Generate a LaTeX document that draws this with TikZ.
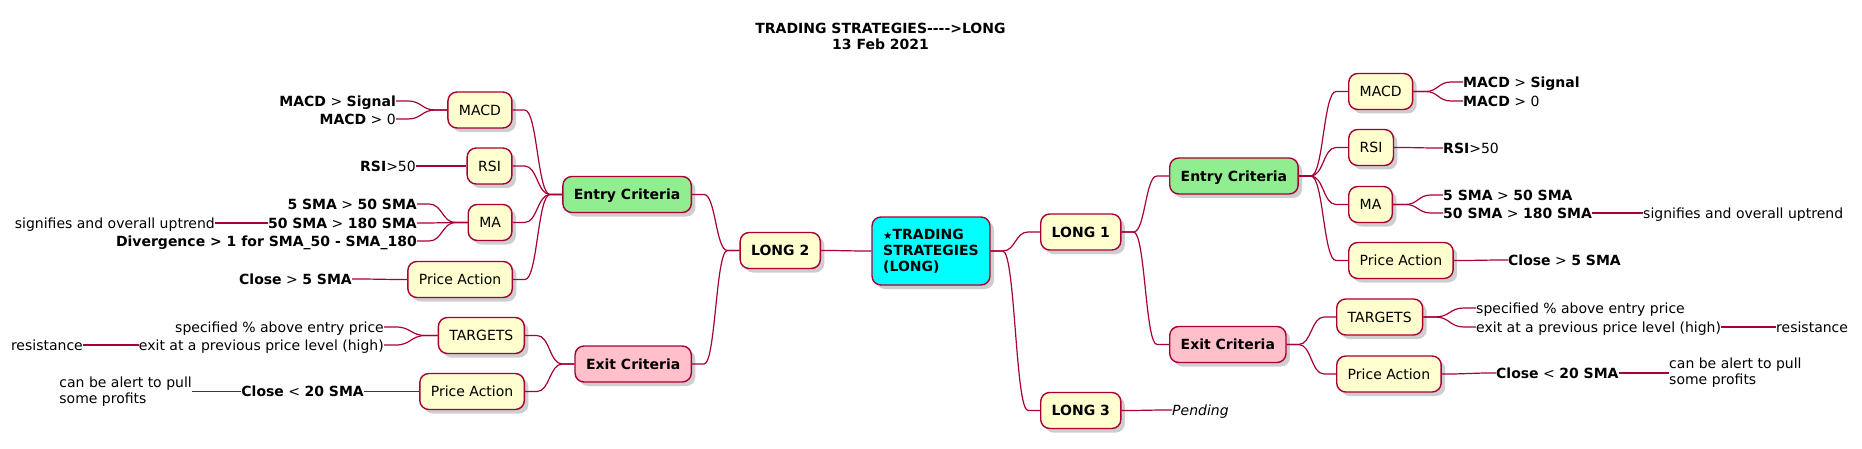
\documentclass[tikz,border=0pt]{standalone}
\usepackage{fontspec}
\setmainfont{DejaVu Sans}
\usetikzlibrary{shadows,calc}
\definecolor{pborder}{HTML}{A80036}
\definecolor{pyellow}{HTML}{FEFECE}
\definecolor{pgreen}{HTML}{90EE90}
\definecolor{ppink}{HTML}{FFC0CB}
\definecolor{pcyan}{HTML}{00FFFF}
\tikzset{
  boxbase/.style={draw=pborder, line width=1.4pt, rounded corners=9pt, fill=pyellow,
    minimum height=36pt, inner xsep=11pt, inner ysep=0pt,
    drop shadow={shadow xshift=4pt, shadow yshift=-4pt, opacity=0.35, fill=black!55}},
  capline/.style={text height=10.2pt, text depth=0pt},
  box/.style={boxbase, capline},
  leaf/.style={inner sep=0pt, capline},
  multileaf/.style={inner sep=0pt, align=left},
  conn/.style={draw=pborder, line width=1.2pt},
}
\newcommand\linkR[2]{\draw[conn] let \p1=(#1.east), \p2=(#2.west), \n1={0.5*(\x1+\x2)} in
  (\p1) -- (\x1+12pt,\y1) .. controls (\n1,\y1) and (\n1,\y2) .. (\x2-12pt,\y2) -- (\p2);}
\newcommand\linkL[2]{\draw[conn] let \p1=(#1.west), \p2=(#2.east), \n1={0.5*(\x1+\x2)} in
  (\p1) -- (\x1-12pt,\y1) .. controls (\n1,\y1) and (\n1,\y2) .. (\x2+12pt,\y2) -- (\p2);}
\begin{document}
\begin{tikzpicture}[x=1pt, y=-1pt, font=\fontsize{14}{16}\selectfont]
\useasboundingbox (0,0) rectangle (1862,449);
\fill[white] (0,0) rectangle (1862,449);

% title
\node[align=center, font=\fontsize{14}{16}\selectfont\bfseries] (title) at (880.5,36)
  {TRADING STRATEGIES-{}-{}-{}-{}>LONG\\13 Feb 2021};

% root
\node[boxbase, fill=pcyan, minimum height=68pt, minimum width=118pt, align=left,
  font=\fontsize{14}{16}\selectfont\bfseries] (root) at (931,251)
  {{\fontsize{10.5}{16}\selectfont ★}TRADING\\STRATEGIES\\(LONG)};

% ---------- right side ----------
\node[box, anchor=west, font=\fontsize{14}{16}\selectfont\bfseries] (L1) at (1040,232) {LONG 1};
\node[box, anchor=west, font=\fontsize{14}{16}\selectfont\bfseries] (L3) at (1040,410.5) {LONG 3};
\node[leaf, anchor=west] (pend) at (1172,410) {\textit{Pending}};

\node[box, fill=pgreen, anchor=west, font=\fontsize{14}{16}\selectfont\bfseries] (rEn) at (1169,176) {Entry Criteria};
\node[box, fill=ppink, anchor=west, font=\fontsize{14}{16}\selectfont\bfseries] (rEx) at (1169,344.5) {Exit Criteria};

\node[box, anchor=west] (rMACD) at (1348,91.5) {MACD};
\node[box, anchor=west] (rRSI) at (1348,147.5) {RSI};
\node[box, anchor=west] (rMA) at (1348,204.5) {MA};
\node[box, anchor=west] (rPA) at (1348,260.5) {Price Action};
\node[box, anchor=west] (rTG) at (1336,317) {TARGETS};
\node[box, anchor=west] (rPA2) at (1336,374) {Price Action};

\node[leaf, anchor=west] (rm1) at (1463,82) {\textbf{MACD} > \textbf{Signal}};
\node[leaf, anchor=west] (rm2) at (1463,101) {\textbf{MACD} > 0};
\node[leaf, anchor=west] (rr1) at (1443,148) {\textbf{RSI}>50};
\node[leaf, anchor=west] (ra1) at (1443,195) {\textbf{5 SMA} > \textbf{50 SMA}};
\node[leaf, anchor=west] (ra2) at (1443,213) {\textbf{50 SMA} > \textbf{180 SMA}};
\node[leaf, anchor=west] (ra3) at (1643,213) {signifies and overall uptrend};
\node[leaf, anchor=west] (rp1) at (1508,260) {\textbf{Close} > \textbf{5 SMA}};
\node[leaf, anchor=west] (rt1) at (1476,308) {specified \% above entry price};
\node[leaf, anchor=west] (rt2) at (1476,327) {exit at a previous price level (high)};
\node[leaf, anchor=west] (rt3) at (1776,327) {resistance};
\node[leaf, anchor=west] (rq1) at (1496,373) {\textbf{Close} < \textbf{20 SMA}};
\node[multileaf, anchor=west] (rq2) at (1669,373) {can be alert to pull\\some profits};

% ---------- left side ----------
\node[box, anchor=east, font=\fontsize{14}{16}\selectfont\bfseries] (L2) at (821,250.5) {LONG 2};
\node[box, fill=pgreen, anchor=east, font=\fontsize{14}{16}\selectfont\bfseries] (lEn) at (692,194.5) {Entry Criteria};
\node[box, fill=ppink, anchor=east, font=\fontsize{14}{16}\selectfont\bfseries] (lEx) at (692,364) {Exit Criteria};

\node[box, anchor=east] (lMACD) at (512.6,110) {MACD};
\node[box, anchor=east] (lRSI) at (512.6,166) {RSI};
\node[box, anchor=east] (lMA) at (512.6,222.5) {MA};
\node[box, anchor=east] (lPA) at (513,279.5) {Price Action};
\node[box, anchor=east] (lTG) at (525,335.5) {TARGETS};
\node[box, anchor=east] (lPA2) at (525,391.5) {Price Action};

\node[leaf, anchor=east] (lm1) at (396,101) {\textbf{MACD} > \textbf{Signal}};
\node[leaf, anchor=east] (lm2) at (396,119) {\textbf{MACD} > 0};
\node[leaf, anchor=east] (lr1) at (416,166) {\textbf{RSI}>50};
\node[leaf, anchor=east] (la1) at (417,204) {\textbf{5 SMA} > \textbf{50 SMA}};
\node[leaf, anchor=east] (la2) at (417,223) {\textbf{50 SMA} > \textbf{180 SMA}};
\node[leaf, anchor=east] (la3) at (417,241) {\textbf{Divergence > 1 for SMA\_50 - SMA\_180}};
\node[leaf, anchor=east] (la4) at (215,223) {signifies and overall uptrend};
\node[leaf, anchor=east] (lp1) at (352,279) {\textbf{Close} > \textbf{5 SMA}};
\node[leaf, anchor=east] (lt1) at (384,327) {specified \% above entry price};
\node[leaf, anchor=east] (lt2) at (384,345) {exit at a previous price level (high)};
\node[leaf, anchor=east] (lt3) at (83,345) {resistance};
\node[leaf, anchor=east] (lq1) at (364,391.5) {\textbf{Close} < \textbf{20 SMA}};
\node[multileaf, anchor=east] (lq2) at (192,391.5) {can be alert to pull\\some profits};

% ---------- connectors ----------
\linkR{root}{L1}
\linkR{root}{L3}
\linkL{root}{L2}
\linkR{L1}{rEn}
\linkR{L1}{rEx}
\linkR{L3}{pend}
\linkR{rEn}{rMACD}
\linkR{rEn}{rRSI}
\linkR{rEn}{rMA}
\linkR{rEn}{rPA}
\linkR{rEx}{rTG}
\linkR{rEx}{rPA2}
\linkR{rMACD}{rm1}
\linkR{rMACD}{rm2}
\linkR{rRSI}{rr1}
\linkR{rMA}{ra1}
\linkR{rMA}{ra2}
\linkR{ra2}{ra3}
\linkR{rPA}{rp1}
\linkR{rTG}{rt1}
\linkR{rTG}{rt2}
\linkR{rt2}{rt3}
\linkR{rPA2}{rq1}
\linkR{rq1}{rq2}

\linkL{L2}{lEn}
\linkL{L2}{lEx}
\linkL{lEn}{lMACD}
\linkL{lEn}{lRSI}
\linkL{lEn}{lMA}
\linkL{lEn}{lPA}
\linkL{lEx}{lTG}
\linkL{lEx}{lPA2}
\linkL{lMACD}{lm1}
\linkL{lMACD}{lm2}
\linkL{lRSI}{lr1}
\linkL{lMA}{la1}
\linkL{lMA}{la2}
\linkL{lMA}{la3}
\linkL{la2}{la4}
\linkL{lPA}{lp1}
\linkL{lTG}{lt1}
\linkL{lTG}{lt2}
\linkL{lt2}{lt3}
\linkL{lPA2}{lq1}
\linkL{lq1}{lq2}
\end{tikzpicture}
\end{document}
